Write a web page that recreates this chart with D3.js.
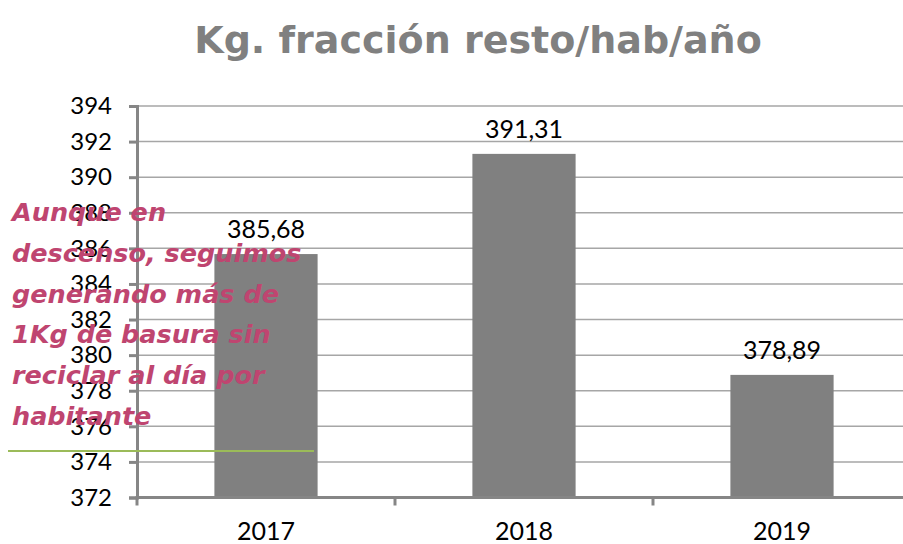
<!DOCTYPE html>
<html>
<head>
<meta charset="utf-8">
<script src="https://cdn.jsdelivr.net/npm/d3@7"></script>
<style>
  body { margin: 0; background: #fff; }
  svg { display: block; font-family: "Lato", "DejaVu Sans", sans-serif; }
</style>
</head>
<body>
<div id="chart"></div>
<script>
const years = ["2017", "2018", "2019"];
const kgValues = [385.68, 391.31, 378.89];
const valueLabels = ["385,68", "391,31", "378,89"];
const yTicks = [372, 374, 376, 378, 380, 382, 384, 386, 388, 390, 392, 394];
const titleText = "Kg. fracción resto/hab/año";
const noteLines = ["Aunque en", "descenso, seguimos", "generando más de", "1Kg de basura sin", "reciclar al día por", "habitante"];

const width = 903, height = 544;
const plotLeft = 137, plotRight = 911, plotTop = 106, plotBottom = 497.5;

const svg = d3.select("#chart").append("svg")
  .attr("width", width)
  .attr("height", height);

const x = d3.scaleBand()
  .domain(years)
  .range([plotLeft, plotRight])
  .paddingInner(0.6)
  .paddingOuter(0.3);
// band edges for ticks (no padding)
const xEdge = d3.scaleBand().domain(years).range([plotLeft, plotRight]);

const y = d3.scaleLinear()
  .domain([372, 394])
  .range([plotBottom, plotTop]);

/* gridlines */
svg.append("g")
  .selectAll("line")
  .data(yTicks.slice(1))
  .join("line")
  .attr("x1", plotLeft)
  .attr("x2", plotRight)
  .attr("y1", d => y(d))
  .attr("y2", d => y(d))
  .attr("stroke", "#a6a6a6")
  .attr("stroke-width", 1.5);

/* bars */
svg.append("g")
  .selectAll("rect")
  .data(kgValues)
  .join("rect")
  .attr("x", (d, i) => x(years[i]))
  .attr("y", d => y(d))
  .attr("width", x.bandwidth())
  .attr("height", d => plotBottom - y(d))
  .attr("fill", "#808080");

/* value labels */
svg.append("g")
  .selectAll("text")
  .data(kgValues)
  .join("text")
  .attr("x", (d, i) => x(years[i]) + x.bandwidth() / 2)
  .attr("y", d => y(d) - 16)
  .attr("text-anchor", "middle")
  .attr("font-size", 25)
  .attr("fill", "#000")
  .text((d, i) => valueLabels[i]);

/* y axis */
const yAxis = d3.axisLeft(y).tickValues(yTicks).tickSize(8).tickPadding(17).tickFormat(d3.format("d"));
const gy = svg.append("g")
  .attr("transform", `translate(${plotLeft},0)`)
  .call(yAxis);
gy.select(".domain").attr("stroke", "#868686").attr("stroke-width", 3);
gy.selectAll(".tick line").attr("stroke", "#868686").attr("stroke-width", 3);
gy.selectAll(".tick text").attr("font-size", 24).attr("fill", "#000").attr("font-family", "Lato, sans-serif");

/* x axis */
const gx = svg.append("g")
  .attr("transform", `translate(0,${plotBottom})`);
gx.append("line")
  .attr("x1", plotLeft - 1.5).attr("x2", plotRight)
  .attr("stroke", "#868686").attr("stroke-width", 3);
gx.selectAll(".xtick")
  .data(years)
  .join("line")
  .attr("class", "xtick")
  .attr("x1", d => xEdge(d)).attr("x2", d => xEdge(d))
  .attr("y1", 0).attr("y2", 8)
  .attr("stroke", "#868686").attr("stroke-width", 3);
gx.selectAll(".xlabel")
  .data(years)
  .join("text")
  .attr("class", "xlabel")
  .attr("x", d => x(d) + x.bandwidth() / 2)
  .attr("y", 42)
  .attr("text-anchor", "middle")
  .attr("font-size", 25)
  .attr("fill", "#000")
  .text(d => d);

/* title */
svg.append("text")
  .attr("x", 478)
  .attr("y", 53)
  .attr("text-anchor", "middle")
  .attr("font-family", "DejaVu Sans, sans-serif")
  .attr("font-size", 38)
  .attr("font-weight", "bold")
  .attr("fill", "#808080")
  .text(titleText);

/* green line */
svg.append("line")
  .attr("x1", 8).attr("x2", 314)
  .attr("y1", 451).attr("y2", 451)
  .attr("stroke", "#9bbb59")
  .attr("stroke-width", 2);

/* annotation */
svg.append("g")
  .selectAll("text")
  .data(noteLines)
  .join("text")
  .attr("x", 12)
  .attr("y", (d, i) => 221 + i * 40.8)
  .attr("font-family", "DejaVu Sans, sans-serif")
  .attr("font-size", 25.5)
  .attr("font-weight", "bold")
  .attr("font-style", "italic")
  .attr("fill", "#bf4570")
  .text(d => d);
</script>
</body>
</html>
